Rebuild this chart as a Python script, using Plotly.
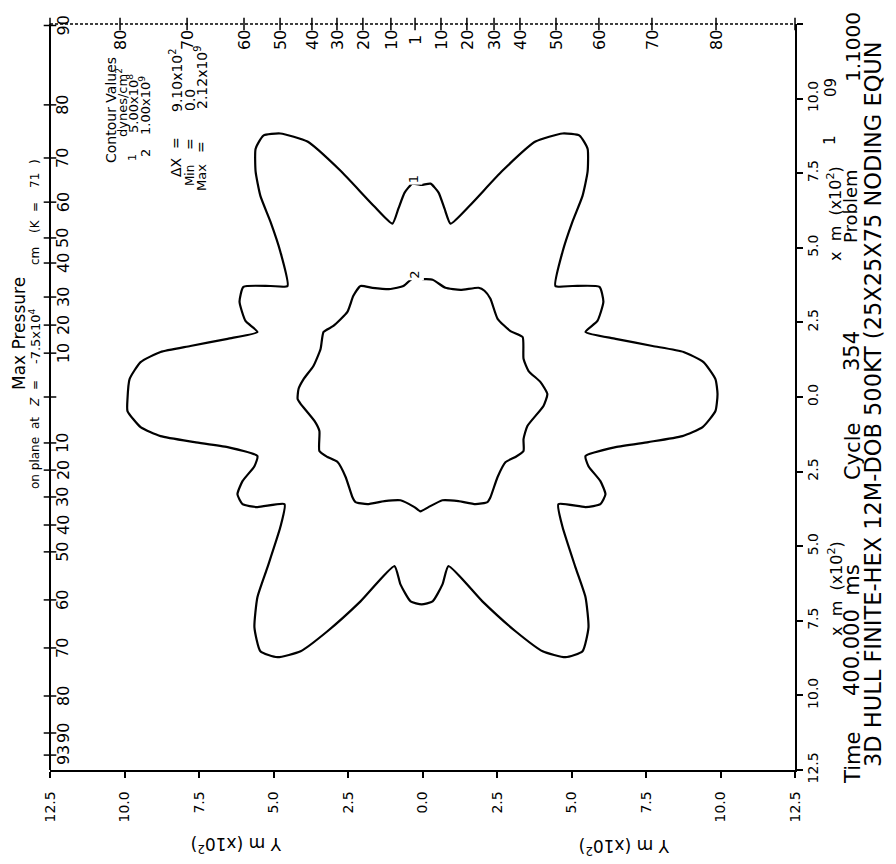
import plotly.graph_objects as go

# ---------------- data (units: x10^2 m) ----------------
# contour 1 (5.00x10^8 dynes/cm^2) - outer star-shaped contour
c1_x = [-0.03, -0.34, -0.60, -0.81, -1.01, -1.64, -2.75, -3.86, -4.77, -5.34, -5.60, -5.60, -5.44, -5.10,
        -4.77, -4.53, -5.10, -6.01, -6.14, -5.94, -5.54, -6.54, -7.79, -8.79, -9.46, -9.83, -9.90,
        -9.90, -9.46, -8.79, -7.65, -6.54, -5.54, -5.64, -6.04, -6.21, -6.04, -5.54, -4.63, -4.77,
        -5.20, -5.54, -5.64, -5.44, -4.87, -4.09, -3.19, -2.08, -0.94, -0.74, -0.40, -0.03,
        0.34, 0.67, 0.87, 2.01, 3.12, 4.03, 4.80, 5.37, 5.57, 5.47, 5.13, 4.70, 4.56, 5.47, 5.97,
        6.14, 5.97, 5.57, 5.47, 6.48, 7.58, 8.72, 9.40, 9.83, 9.90,
        9.83, 9.43, 8.76, 7.72, 6.48, 5.47, 5.87, 6.07, 5.94, 5.03, 4.46, 4.70, 5.03, 5.37, 5.54,
        5.54, 5.27, 4.70, 3.79, 2.68, 1.58, 0.94, 0.74, 0.54, 0.27, -0.03]
c1_y = [7.11, 7.15, 6.85, 6.31, 5.81, 6.41, 7.58, 8.56, 8.83, 8.76, 8.32, 7.55, 6.74, 5.87,
        4.87, 3.72, 3.72, 3.69, 3.19, 2.55, 2.18, 1.95, 1.71, 1.51, 1.17, 0.60, -0.07,
        -0.47, -1.01, -1.31, -1.51, -1.68, -1.98, -2.32, -2.82, -3.26, -3.59, -3.69, -3.59, -4.36,
        -5.70, -6.71, -7.72, -8.52, -8.72, -8.52, -7.85, -6.85, -5.67, -6.28, -6.85, -6.95,
        -6.85, -6.28, -5.67, -6.85, -7.85, -8.52, -8.72, -8.52, -7.72, -6.71, -5.70, -4.36, -3.59, -3.69, -3.59,
        -3.26, -2.82, -2.32, -1.98, -1.68, -1.51, -1.31, -1.01, -0.47, 0.10,
        0.60, 1.17, 1.51, 1.71, 1.95, 2.18, 2.55, 3.19, 3.69, 3.72, 3.72, 4.87, 5.87, 6.74, 7.55,
        8.32, 8.76, 8.83, 8.56, 7.58, 6.41, 5.81, 6.31, 6.85, 7.15, 7.11]

# contour 2 (1.00x10^9 dynes/cm^2) - inner scalloped contour
c2_x = [-0.03, -0.23, -0.64, -1.07, -1.68, -2.08, -2.32, -2.52, -2.99, -3.32, -3.42, -3.66, -3.99, -4.16, -4.19,
        -4.09, -3.62, -3.46, -3.46, -3.19, -2.85, -2.58, -2.35, -2.25, -1.85, -1.28, -0.74, -0.27, -0.07,
        0.20, 0.67, 1.21, 1.78, 2.18, 2.28, 2.52, 2.79, 3.12, 3.39, 3.39, 3.52, 4.06, 4.19,
        3.96, 3.56, 3.39, 3.36, 2.95, 2.52, 2.28, 2.08, 1.88, 1.28, 0.77, 0.34, -0.03]
c2_y = [3.96, 4.06, 3.72, 3.62, 3.66, 3.72, 3.39, 2.85, 2.38, 2.18, 1.61, 1.04, 0.60, 0.27, -0.07,
        -0.23, -0.81, -1.14, -1.81, -2.01, -2.18, -2.68, -3.36, -3.52, -3.59, -3.49, -3.46, -3.69, -3.83,
        -3.69, -3.46, -3.49, -3.59, -3.52, -3.36, -2.68, -2.18, -2.01, -1.81, -1.41, -0.97, -0.30, 0.10,
        0.50, 0.87, 1.28, 2.01, 2.21, 2.62, 3.29, 3.56, 3.66, 3.59, 3.66, 3.93, 3.96]

contour_labels = ["1", "2"]
contour_label_x = [-0.32, -0.25]
contour_label_y = [7.30, 4.10]

axis_tickvals = [-12.5, -10.0, -7.5, -5.0, -2.5, 0.0, 2.5, 5.0, 7.5, 10.0, 12.5]
axis_ticktext = ["12.5", "10.0", "7.5", "5.0", "2.5", "0.0", "2.5", "5.0", "7.5", "10.0", "12.5"]

# mesh node indices along the top and left borders
top_node_labels = ["80", "70", "60", "50", "40", "30", "20", "10", "1", "10", "20", "30", "40", "50", "60", "70", "80"]
top_node_pos = [-10.15, -7.90, -5.99, -4.78, -3.71, -2.87, -2.00, -1.06, -0.25, 0.62, 1.49, 2.40, 3.27, 4.48, 5.92, 7.70, 9.85]
left_node_labels = ["90", "80", "70", "60", "50", "40", "30", "20", "10",
                    "10", "20", "30", "40", "50", "60", "70", "80", "90", "93"]
left_node_pos = [12.45, 9.79, 8.01, 6.53, 5.33, 4.49, 3.35, 2.41, 1.47,
                 -1.54, -2.45, -3.35, -4.29, -5.19, -6.80, -8.41, -10.02, -11.26, -12.0]

FONT = "DejaVu Sans"
OFF = 8                      # default page body margin around the figure
PAGE_W, PAGE_H = 896, 864
FIG_W, FIG_H = PAGE_W - 2 * OFF, PAGE_H - 2 * OFF
PL, PR, PT, PB = 50, 795, 24, 770   # plot frame in page pixels

fig = go.Figure()
fig.add_trace(go.Scatter(x=c1_x, y=c1_y, mode="lines",
                         line=dict(color="black", width=2.2, shape="spline", smoothing=0.5),
                         hoverinfo="skip", showlegend=False))
fig.add_trace(go.Scatter(x=c2_x, y=c2_y, mode="lines",
                         line=dict(color="black", width=2.2, shape="spline", smoothing=0.5),
                         hoverinfo="skip", showlegend=False))

# node tick marks
fig.add_trace(go.Scatter(x=top_node_pos + [-12.5, 12.5], y=[12.5] * (len(top_node_pos) + 2), mode="markers",
                         marker=dict(symbol="line-ns", size=9, line=dict(color="black", width=1.5)),
                         cliponaxis=False, hoverinfo="skip", showlegend=False))
fig.add_trace(go.Scatter(x=[-12.5] * (len(left_node_pos) + 1), y=left_node_pos + [0.0], mode="markers",
                         marker=dict(symbol="line-ew", size=9, line=dict(color="black", width=1.5)),
                         cliponaxis=False, hoverinfo="skip", showlegend=False))

annotations = []


def ann(text, sx, sy, size, angle=-90):
    annotations.append(dict(text=text, x=(sx - PL) / (PR - PL), y=(PB - sy) / (PB - PT),
                            xref="paper", yref="paper",
                            showarrow=False, textangle=angle, xanchor="center", yanchor="middle",
                            font=dict(size=size, family=FONT, color="black")))


for lab, p in zip(top_node_labels, top_node_pos):
    annotations.append(dict(text=lab, x=p, y=12.5, xref="x", yref="y", yshift=-16, showarrow=False,
                            textangle=-90, xanchor="center", yanchor="middle",
                            font=dict(size=16, family=FONT, color="black")))
for lab, p in zip(left_node_labels, left_node_pos):
    annotations.append(dict(text=lab, x=-12.5, y=p, xref="x", yref="y", xshift=13, showarrow=False,
                            textangle=-90, xanchor="center", yanchor="middle",
                            font=dict(size=16, family=FONT, color="black")))
for lab, lx, ly in zip(contour_labels, contour_label_x, contour_label_y):
    annotations.append(dict(text=lab, x=lx, y=ly, xref="x", yref="y", showarrow=False, textangle=-90,
                            xanchor="center", yanchor="middle", bgcolor="white",
                            font=dict(size=13, family=FONT, color="black")))

# title block (left side)
ann("Max Pressure", 19, 334, 17)
ann("on plane", 35, 463, 12)
ann("at", 35, 423, 12)
ann("<i>Z</i>", 35, 402, 12)
ann("=", 35, 385, 12)
ann("-7.5x10<sup>4</sup>", 35, 336, 13)
ann("cm", 35, 256, 12)
ann("(K", 35, 226, 12)
ann("=", 35, 207, 12)
ann("71", 35, 181, 12)
ann(")", 35, 162, 12)

# contour value legend
ann("Contour Values", 111, 110, 14)
ann("dynes/cm<sup>2</sup>", 122, 103, 13)
ann("1", 132, 158, 11)
ann("5.00x10<sup>8</sup>", 133, 104, 13)
ann("2", 145, 153, 13)
ann("1.00x10<sup>9</sup>", 145, 106, 13)
ann("ΔX", 176, 167, 14)
ann("=", 176, 143, 14)
ann("9.10x10<sup>2</sup>", 176, 80, 14)
ann("Min", 190, 176, 12)
ann("=", 190, 144, 14)
ann("0.0", 190, 100, 14)
ann("Max", 201, 178, 13)
ann("=", 201, 147, 14)
ann("2.12x10<sup>9</sup>", 201, 77, 14)

# axis titles
ann("Y m (x10<sup>2</sup>)", 237, 845, 17, angle=180)
ann("Y m (x10<sup>2</sup>)", 625, 847, 17, angle=180)
ann("x  m  (x10<sup>2</sup>)", 835, 588, 16)
ann("x  m  (x10<sup>2</sup>)", 835, 213, 16)
ann("1", 830, 140, 15)
ann("09", 831, 88, 15)

# footer block (right side)
ann("Time", 853, 758, 21)
ann("400.000  ms", 852, 630, 21)
ann("Cycle", 853, 452, 21)
ann("354", 852, 351, 21)
ann("Problem", 850, 206, 18)
ann("1.1000", 853, 47, 20)
ann("3D HULL FINITE-HEX 12M-DOB 500KT (25X25X75 NODING EQUN", 873, 404, 22.5)

axis_common = dict(range=[-12.5, 12.5], tickmode="array", tickvals=axis_tickvals, ticktext=axis_ticktext,
                   tickangle=-90, ticks="outside", ticklen=6, tickwidth=1.5, tickcolor="black",
                   showline=True, linecolor="black", linewidth=1.5, showgrid=False, zeroline=False,
                   tickfont=dict(size=14, family=FONT, color="black"), fixedrange=True, automargin=False)

fig.update_layout(
    width=FIG_W, height=FIG_H,
    margin=dict(l=PL - OFF, r=FIG_W - (PR - OFF), t=PT - OFF, b=FIG_H - (PB - OFF), autoexpand=False),
    paper_bgcolor="white", plot_bgcolor="white",
    xaxis=dict(**axis_common, side="bottom", ticklabelstandoff=8),
    yaxis=dict(**axis_common, side="right", ticklabelstandoff=-2),
    annotations=annotations,
    shapes=[
        dict(type="line", xref="paper", yref="paper", x0=0, x1=0, y0=0, y1=1,
             line=dict(color="black", width=2)),
        dict(type="line", xref="paper", yref="paper", x0=0, x1=1, y0=1, y1=1,
             line=dict(color="black", width=1.5, dash="3px,2px")),
    ],
    showlegend=False,
)

fig.write_html("out.html")
